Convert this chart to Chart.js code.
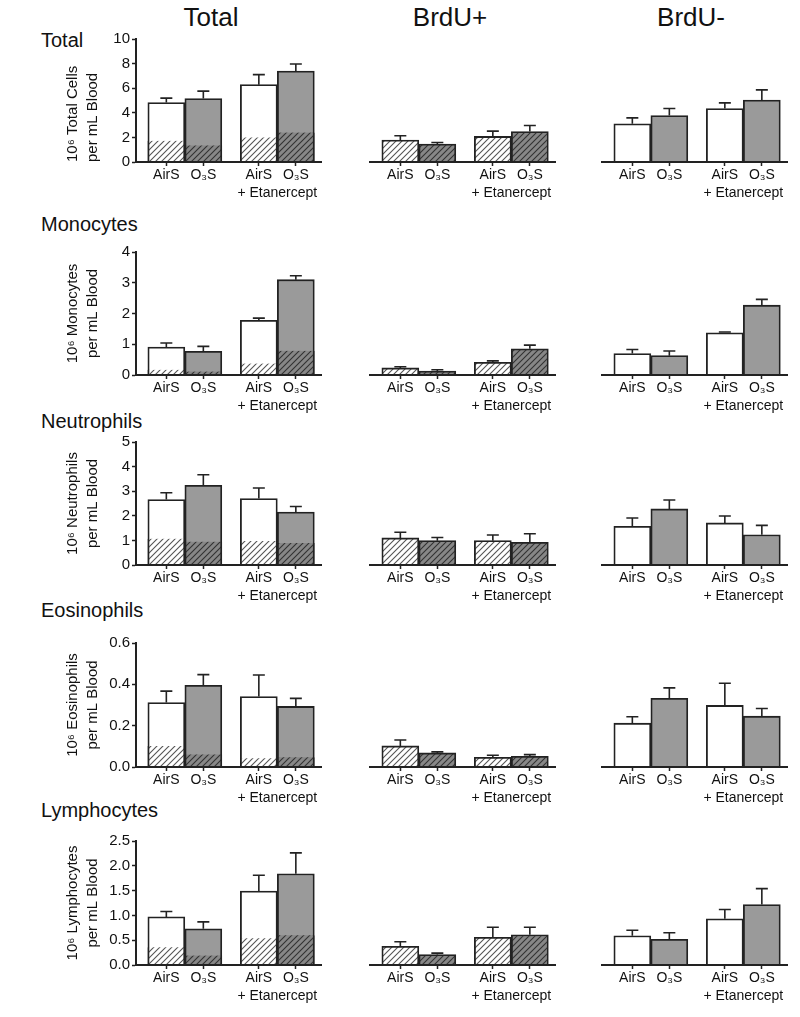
<!DOCTYPE html>
<html>
<head>
<meta charset="utf-8">
<script src="https://cdn.jsdelivr.net/npm/chart.js@4.4.0/dist/chart.umd.min.js"></script>
<style>
  html, body { margin: 0; padding: 0; background: #fff; }
  body { width: 800px; height: 1017px; position: relative; overflow: hidden;
         font-family: 'Liberation Sans', Arial, Helvetica, sans-serif; color: #111; }
  .lbl { position: absolute; line-height: 1; white-space: nowrap; }
  .col-title { font-size: 26px; transform: translate(-50%, -50%); }
  .row-title { font-size: 20px; transform: translateY(-50%); }
</style>
</head>
<body>
<div id="fig"></div>
<script>
// --- 1. DATA ---
const groupLabels = ['AirS', 'O₃S', 'AirS', 'O₃S'];
const groupPos = [1, 2, 3.5, 4.5];
const drugLabel = '+ Etanercept';
const drugPos = 4;

const columnNames = ['Total', 'BrdU+', 'BrdU-'];
const cellTypes = ['Total', 'Monocytes', 'Neutrophils', 'Eosinophils', 'Lymphocytes'];
const yTitles = [
  ['10⁶ Total Cells', 'per mL Blood'],
  ['10⁶ Monocytes', 'per mL Blood'],
  ['10⁶ Neutrophils', 'per mL Blood'],
  ['10⁶ Eosinophils', 'per mL Blood'],
  ['10⁶ Lymphocytes', 'per mL Blood']
];
const yMax = [10, 4, 5, 0.6, 2.5];
const yStep = [2, 1, 1, 0.2, 0.5];
const yDecimals = [0, 0, 0, 1, 1];

// Total column (whole bar) + the BrdU+ part shown hatched inside it
const totalMean = [
  [4.83, 5.16, 6.29, 7.40],
  [0.91, 0.77, 1.78, 3.10],
  [2.66, 3.24, 2.70, 2.15],
  [0.312, 0.395, 0.341, 0.293],
  [0.97, 0.73, 1.49, 1.84]
];
const totalSem = [
  [0.36, 0.60, 0.81, 0.57],
  [0.13, 0.16, 0.07, 0.13],
  [0.28, 0.43, 0.43, 0.23],
  [0.055, 0.052, 0.104, 0.039],
  [0.11, 0.14, 0.32, 0.42]
];
const totalBrduPart = [
  [1.73, 1.35, 2.00, 2.40],
  [0.17, 0.11, 0.37, 0.79],
  [1.07, 0.95, 0.98, 0.89],
  [0.102, 0.061, 0.042, 0.047],
  [0.36, 0.19, 0.54, 0.60]
];

// BrdU+ column
const brduPosMean = [
  [1.78, 1.46, 2.08, 2.48],
  [0.23, 0.13, 0.41, 0.85],
  [1.10, 0.99, 0.99, 0.92],
  [0.102, 0.068, 0.047, 0.052],
  [0.376, 0.21, 0.56, 0.61]
];
const brduPosSem = [
  [0.36, 0.13, 0.43, 0.49],
  [0.04, 0.04, 0.05, 0.12],
  [0.23, 0.13, 0.23, 0.35],
  [0.029, 0.005, 0.010, 0.008],
  [0.094, 0.03, 0.20, 0.15]
];

// BrdU- column
const brduNegMean = [
  [3.10, 3.78, 4.35, 5.03],
  [0.70, 0.63, 1.37, 2.27],
  [1.57, 2.28, 1.71, 1.23],
  [0.212, 0.332, 0.298, 0.246],
  [0.59, 0.52, 0.93, 1.22]
];
const brduNegSem = [
  [0.49, 0.57, 0.46, 0.83],
  [0.13, 0.15, 0.03, 0.19],
  [0.34, 0.36, 0.28, 0.38],
  [0.031, 0.051, 0.107, 0.037],
  [0.11, 0.13, 0.19, 0.32]
];

// --- 2. LAYOUT & STYLE ---
const FONT = "'Liberation Sans', Arial, Helvetica, sans-serif";
const INK = '#222';
const WHITE = '#ffffff';
const GRAY = '#9a9a9a';

const colLeft = [136, 370, 602];        // plot area left edge per column
const plotW = 185;
const axisTop = [39, 252, 442, 643, 841];
const axisBottom = [162, 375, 565, 767, 965];
const yTitleAlign = ['start', 'center', 'center', 'center', 'center'];
const colTitleX = [211, 450, 691];
const rowTitleY = [40, 224, 421, 610, 810];

const padTop = 16, xAxisH = 46, padBottom = 2, yAxisW = 76, sidePad = 12;

Chart.defaults.font.family = FONT;
Chart.defaults.color = '#111';

function makeHatch(bg, line) {
  const s = 6;
  const c = document.createElement('canvas');
  c.width = s; c.height = s;
  const g = c.getContext('2d');
  g.fillStyle = bg;
  g.fillRect(0, 0, s, s);
  g.strokeStyle = line;
  g.lineWidth = 1.1;
  g.beginPath();
  g.moveTo(0, s); g.lineTo(s, 0);
  g.moveTo(-1, 1); g.lineTo(1, -1);
  g.moveTo(s - 1, s + 1); g.lineTo(s + 1, s - 1);
  g.stroke();
  return g.createPattern(c, 'repeat');
}
const hatchWhite = makeHatch('#ffffff', '#555');
const hatchGray = makeHatch('#878787', '#333');

const plainColors = groupPos.map((_, i) => i % 2 === 0 ? WHITE : GRAY);
const hatchColors = groupPos.map((_, i) => i % 2 === 0 ? hatchWhite : hatchGray);

// --- 3. TEXT OUTSIDE CHARTS ---
const fig = document.getElementById('fig');
columnNames.forEach((name, c) => {
  const d = document.createElement('div');
  d.className = 'lbl col-title';
  d.textContent = name;
  d.style.left = colTitleX[c] + 'px';
  d.style.top = '17px';
  fig.appendChild(d);
});
cellTypes.forEach((name, r) => {
  const d = document.createElement('div');
  d.className = 'lbl row-title';
  d.textContent = name;
  d.style.left = '41px';
  d.style.top = rowTitleY[r] + 'px';
  fig.appendChild(d);
});

// --- 4. ERROR BARS + GROUP LABEL (plugin) ---
function overlayPlugin(means, sems) {
  return {
    id: 'overlay',
    afterDatasetsDraw(chart) {
      const { ctx, chartArea } = chart;
      const xs = chart.scales.x, ys = chart.scales.y;
      ctx.save();
      ctx.strokeStyle = INK;
      ctx.lineWidth = 1.6;
      means.forEach((m, i) => {
        const px = xs.getPixelForValue(groupPos[i]);
        const y0 = ys.getPixelForValue(m);
        const y1 = ys.getPixelForValue(m + sems[i]);
        ctx.beginPath();
        ctx.moveTo(px, y0); ctx.lineTo(px, y1);
        ctx.moveTo(px - 6, y1); ctx.lineTo(px + 6, y1);
        ctx.stroke();
      });
      ctx.fillStyle = '#111';
      ctx.font = '14px ' + FONT;
      ctx.textAlign = 'center';
      ctx.textBaseline = 'middle';
      ctx.fillText(drugLabel, xs.getPixelForValue(drugPos), chartArea.bottom + 31);
      ctx.restore();
    }
  };
}

// --- 5. PANELS ---
function toPoints(vals) {
  return groupPos.map((x, i) => ({ x, y: vals[i] }));
}

function makePanel(r, c) {
  const plotH = axisBottom[r] - axisTop[r];
  const left = c === 0 ? colLeft[0] - yAxisW : colLeft[c] - sidePad;
  const w = c === 0 ? yAxisW + plotW + sidePad : sidePad * 2 + plotW;
  const h = padTop + plotH + xAxisH + padBottom;
  const top = axisTop[r] - padTop;

  const cv = document.createElement('canvas');
  cv.width = w; cv.height = h;
  cv.style.cssText = `position:absolute;left:${left}px;top:${top}px;width:${w}px;height:${h}px`;
  fig.appendChild(cv);

  let datasets, means, sems;
  const barBase = { grouped: false, barPercentage: 1, categoryPercentage: 1, borderColor: INK };
  if (c === 0) {
    means = totalMean[r]; sems = totalSem[r];
    datasets = [
      { ...barBase, data: toPoints(totalBrduPart[r]), backgroundColor: hatchColors,
        borderWidth: { top: 0, left: 1.8, right: 1.8, bottom: 0 } },
      { ...barBase, data: toPoints(totalMean[r]), backgroundColor: plainColors, borderWidth: 1.8 }
    ];
  } else if (c === 1) {
    means = brduPosMean[r]; sems = brduPosSem[r];
    datasets = [{ ...barBase, data: toPoints(brduPosMean[r]), backgroundColor: hatchColors, borderWidth: 1.8 }];
  } else {
    means = brduNegMean[r]; sems = brduNegSem[r];
    datasets = [{ ...barBase, data: toPoints(brduNegMean[r]), backgroundColor: plainColors, borderWidth: 1.8 }];
  }

  const yScale = {
    display: c === 0,
    min: 0, max: yMax[r],
    ticks: {
      stepSize: yStep[r], padding: 2,
      font: { size: 15 },
      callback: v => Number(v).toFixed(yDecimals[r])
    },
    grid: { drawOnChartArea: false, drawTicks: true, tickLength: 4, tickWidth: 1.5, tickColor: INK },
    border: { display: true, color: INK, width: 2, z: 1 },
    title: {
      display: true, text: yTitles[r], align: yTitleAlign[r],
      font: { size: 15, lineHeight: 20 / 15 },
      padding: { top: 3, bottom: 0 }
    }
  };
  if (c === 0) yScale.afterFit = axis => { axis.width = yAxisW; };

  new Chart(cv, {
    type: 'bar',
    data: { datasets },
    plugins: [overlayPlugin(means, sems)],
    options: {
      responsive: false,
      animation: false,
      devicePixelRatio: 1,
      layout: { padding: { top: padTop, bottom: padBottom, left: c === 0 ? 0 : sidePad, right: sidePad } },
      plugins: { legend: { display: false }, tooltip: { enabled: false } },
      scales: {
        x: {
          type: 'linear',
          min: 0.18, max: 5.18,
          offset: false,
          afterBuildTicks: axis => { axis.ticks = groupPos.map(v => ({ value: v })); },
          afterFit: axis => { axis.height = xAxisH; },
          ticks: {
            autoSkip: false, maxRotation: 0, minRotation: 0, padding: 1,
            font: { size: 14, lineHeight: 1.2 },
            callback: (v, i) => groupLabels[i]
          },
          grid: { offset: false, drawOnChartArea: false, drawTicks: true, tickLength: 4, tickWidth: 1.5, tickColor: INK },
          border: { display: true, color: INK, width: 2, z: 1 }
        },
        y: yScale
      }
    }
  });
}

document.addEventListener('DOMContentLoaded', () => {
  cellTypes.forEach((_, r) => columnNames.forEach((_, c) => makePanel(r, c)));
});
</script>
</body>
</html>
